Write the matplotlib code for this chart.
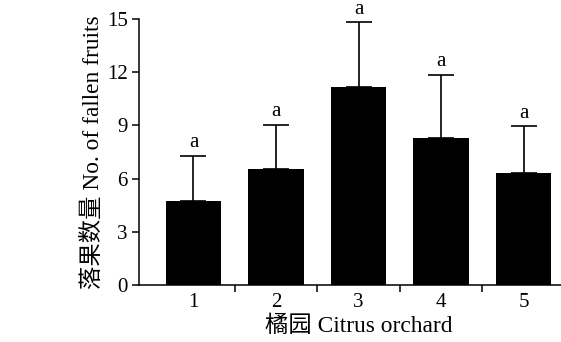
import numpy as np
import matplotlib.pyplot as plt

plt.rcParams['font.family'] = ['Liberation Serif', 'Noto Sans CJK SC']

# 数据
orchards = ['1', '2', '3', '4', '5']
means = [4.74, 6.56, 11.17, 8.31, 6.30]
errors = [2.54, 2.46, 3.65, 3.53, 2.65]
letters = ['a', 'a', 'a', 'a', 'a']

fig = plt.figure(figsize=(5.61, 3.42), dpi=100)
ax = fig.add_axes([0.2478, 0.1667, 0.7825, 0.7778])

x = np.arange(1, len(orchards) + 1)
ax.bar(x, means, width=0.67, color='black', zorder=2)
ax.errorbar(x, means, yerr=[np.zeros(len(errors)), errors], fmt='none',
            ecolor='black', elinewidth=1.2, capsize=9.5, capthick=1.2, zorder=1)

for xi, m, e, lab in zip(x, means, errors, letters):
    ax.text(xi, m + e + 0.2, lab, ha='center', va='bottom', fontsize=15)

ax.set_xlim(0.34, 5.66)
ax.set_ylim(0, 15)
ax.set_yticks([0, 3, 6, 9, 12, 15])
ax.set_xticks(x)
ax.set_xticklabels(orchards)
ax.set_xticks([1.5, 2.5, 3.5, 4.5], minor=True)
ax.tick_params(axis='x', which='major', length=0, labelsize=15, pad=6)
ax.tick_params(axis='x', which='minor', length=5, width=1.1, direction='out')
ax.tick_params(axis='y', length=5, width=1.1, direction='out', labelsize=15, pad=3)

for s in ['top', 'right']:
    ax.spines[s].set_visible(False)
for s in ['left', 'bottom']:
    ax.spines[s].set_linewidth(1.1)

ax.set_xlabel('橘园 Citrus orchard', fontsize=16.8, labelpad=2)
ax.set_ylabel('落果数量 No. of fallen fruits', fontsize=16.8, labelpad=2)

fig.savefig('out.png', dpi=100)
